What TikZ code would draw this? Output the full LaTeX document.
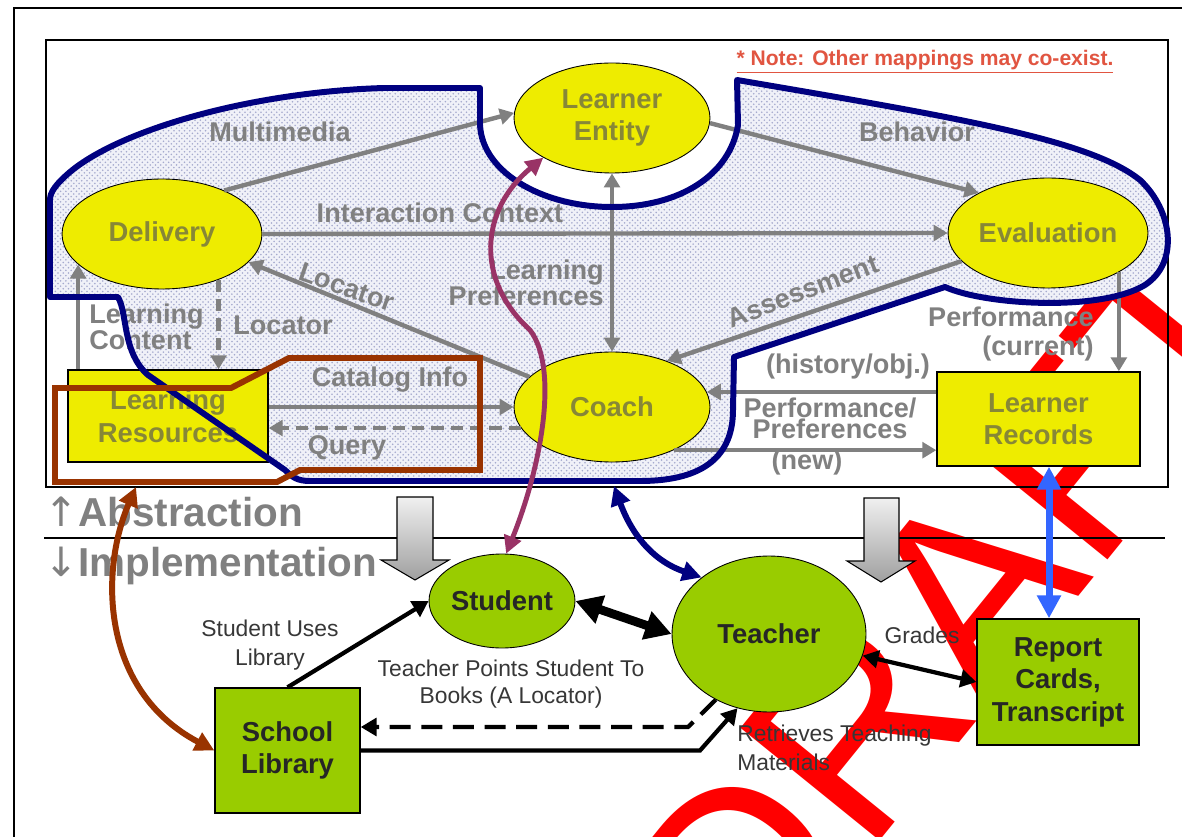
\documentclass[tikz,border=0pt]{standalone}
\usepackage{fontspec}
\setmainfont{Liberation Sans}
\newfontfamily\arrowfont{DejaVu Sans}
\usetikzlibrary{shapes.geometric,arrows.meta,patterns}

\definecolor{ylw}{RGB}{238,236,0}
\definecolor{grn}{RGB}{153,204,0}
\definecolor{navyline}{RGB}{0,0,128}
\definecolor{brn}{RGB}{153,51,0}
\definecolor{plum}{RGB}{153,51,102}
\definecolor{lblue}{RGB}{51,102,255}
\definecolor{lgray}{RGB}{128,128,128}
\definecolor{dgray}{RGB}{55,55,55}
\definecolor{nodetxt}{RGB}{135,135,55}
\definecolor{notered}{RGB}{225,85,65}
\definecolor{wmred}{RGB}{255,0,0}
\definecolor{dotbase}{RGB}{240,241,248}
\definecolor{dotcol}{RGB}{165,170,205}

\newcommand\nodefont{\fontsize{15.6}{18.5}\selectfont\bfseries}
\newcommand\labfont{\fontsize{15.4}{15}\selectfont\bfseries}
\newcommand\lowfont{\fontsize{13}{16.5}\selectfont}

\tikzset{
  yell/.style={ellipse, draw=black, line width=0.5pt, fill=ylw, text=nodetxt,
    font=\nodefont, inner sep=0pt, align=center},
  yrect/.style={rectangle, draw=black, line width=0.8pt, fill=ylw, text=nodetxt,
    font=\nodefont, inner sep=0pt, align=center},
  gell/.style={ellipse, draw=black, line width=0.5pt, fill=grn, text=black!85,
    font=\nodefont, inner sep=0pt, align=center},
  grect/.style={rectangle, draw=black, line width=0.8pt, fill=grn, text=black!85,
    font=\nodefont, inner sep=0pt, align=center},
  glab/.style={text=lgray, font=\labfont, inner sep=0pt, align=center},
  blab/.style={text=dgray, font=\lowfont, inner sep=0pt, align=center},
  garr/.style={draw=lgray, line width=2.5pt, -{Triangle[length=8pt,width=9pt]}},
  gboth/.style={draw=lgray, line width=2.5pt,
    {Triangle[length=8pt,width=9pt]}-{Triangle[length=8pt,width=9pt]}},
  gdash/.style={dash pattern=on 7pt off 4pt},
  barr/.style={draw=black, line width=2.4pt, -{Triangle[length=9pt,width=10pt]}},
  bboth/.style={draw=black, line width=2.4pt,
    {Triangle[length=9pt,width=10pt]}-{Triangle[length=9pt,width=10pt]}},
  blockarrow/.style={draw=black, line width=0.6pt, top color=gray!12, bottom color=gray!75},
}

\begin{document}
\begin{tikzpicture}[x=0.02cm, y=-0.02cm]
\useasboundingbox (0,0) rectangle (1182,837);
\clip (0,0) rectangle (1182,837);
\fill[white] (0,0) rectangle (1182,837);

% watermark underneath everything
\node[rotate=51, text=wmred, font=\fontsize{148}{148}\selectfont, inner sep=0pt]
  (wm) at (952,610) {DRAFT};

% frames
\draw[line width=0.8pt] (14,8) rectangle (1220,880);
\draw[line width=0.8pt] (46,40) rectangle (1168,487);

% shaded region of the abstract model
\def\regionpath{(50,200) -- (50,297) -- (118,297)
  .. controls (128,315) and (122,352) .. (148,375)
  -- (285,470) .. controls (292,477) and (297,481) .. (310,481)
  -- (640,481) .. controls (705,481) and (733,455) .. (733,410)
  -- (734,357) -- (945,287)
  .. controls (985,305) and (1100,312) .. (1145,285)
  .. controls (1180,262) and (1172,210) .. (1140,180)
  .. controls (1090,140) and (960,118) .. (737,80)
  -- (738,125) .. controls (730,175) and (680,207) .. (612,207)
  .. controls (540,207) and (478,170) .. (480,120)
  -- (480,88) -- (384,88)
  .. controls (250,92) and (120,130) .. (70,172)
  .. controls (56,184) and (50,192) .. (50,200) -- cycle}
\fill[dotbase] \regionpath;
\fill[pattern=crosshatch dots, pattern color=dotcol] \regionpath;

% abstract nodes
\node[yell, minimum width=3.92cm, minimum height=2.2cm] (le) at (612,118) {Learner\\Entity};
\node[yell, minimum width=4.0cm, minimum height=2.2cm] (del) at (162,234) {Delivery};
\node[yell, minimum width=4.0cm, minimum height=2.2cm] (eva) at (1048,233) {Evaluation};
\node[yell, minimum width=3.92cm, minimum height=2.2cm] (coach) at (612,407) {Coach};
\node[yrect, minimum width=4.0cm, minimum height=1.84cm] (lres) at (168,416) {Learning\\Resources};
\node[yrect, minimum width=4.06cm, minimum height=1.88cm] (lrec) at (1038.5,419) {Learner\\Records};

% abstract connectors
\draw[garr] (del.35) -- (le.177);
\draw[garr] (le.-3) -- (eva.150);
\draw[garr] (del.east) -- (eva.west);
\draw[gboth] (le.south) -- (coach.north);
\draw[garr] (coach.160) -- (del.-18);
\draw[garr] (eva.198) -- (coach.40);
\draw[garr] (del.200 |- lres.north) -- (del.200);
\draw[garr, gdash] (del.-39) -- (del.-39 |- lres.north);
\draw[garr] (lres.east |- coach.west) -- (coach.west);
\draw[garr, gdash] (coach.193) -- (coach.193 -| lres.east);
\draw[garr] (eva.-29) -- (eva.-29 |- lrec.north);
\draw[garr] (coach.9 -| lrec.west) -- (coach.9);
\draw[garr] (coach.-35) -- (coach.-35 -| lrec.west);

% connector labels
\node[glab] (tMul) at (280,132) {Multimedia};
\node[glab] (tBeh) at (917,132) {Behavior};
\node[glab] (tInt) at (440,213) {Interaction Context};
\node[glab, align=right, anchor=east] (tLP) at (604,283) {Learning\\Preferences};
\node[glab, rotate=-19] (tLoc1) at (347,287) {Locator};
\node[glab, rotate=21] (tAss) at (803,291) {Assessment};
\node[glab, align=left, anchor=west] (tLC) at (89,327) {Learning\\Content};
\node[glab] (tLoc2) at (283,325) {Locator};
\node[glab] (tCat) at (390,380) {Catalog Info};
\node[glab] (tQry) at (347,448) {Query};
\node[glab, align=right, anchor=east, font=\fontsize{15.4}{16}\selectfont\bfseries] (tPc) at (1094,334) {Performance\\(current)};
\node[glab] (tHist) at (848,367) {(history/obj.)};
\node[glab, font=\fontsize{15.4}{12}\selectfont\bfseries] (tPP) at (830,418) {Performance/\\Preferences};
\node[glab] (tNew) at (807,463) {(new)};

% boundary of the learner-centred part
\draw[navyline, line width=3.4pt, line join=round] \regionpath;

% catalogue boundary
\draw[brn, line width=3.4pt, line join=miter]
  (55,388) -- (231,388) -- (289,358) -- (480,358) -- (480,470)
  -- (300,470) -- (277,482) -- (55,482) -- cycle;

% note
\node[text=notered, font=\fontsize{12}{14}\selectfont\bfseries, inner sep=0pt]
  (note) at (925,62) {\underline{* Note: Other mappings may co-exist.}};

% abstraction / implementation divide
\draw[line width=1.7pt] (44,538) -- (1165,538);
\node[text=lgray, font=\fontsize{23}{25}\selectfont\bfseries, anchor=west, inner sep=0pt]
  (tAbs) at (44,512) {{\arrowfont\mdseries ↑}Abstraction};
\node[text=lgray, font=\fontsize{23}{25}\selectfont\bfseries, anchor=west, inner sep=0pt]
  (tImp) at (44,566) {{\arrowfont\mdseries ↓}Implementation};

% mapping arrows
\shade[blockarrow] (397,497) -- (433,497) -- (433,560) -- (449,560) -- (415,580)
  -- (381,560) -- (397,560) -- cycle;
\shade[blockarrow] (864,498) -- (899,498) -- (899,561) -- (915,561) -- (881,582)
  -- (847,561) -- (864,561) -- cycle;

% implementation nodes
\node[gell, minimum width=2.92cm, minimum height=1.88cm] (stu) at (502,601) {Student};
\node[gell, minimum width=3.88cm, minimum height=3.12cm] (tea) at (769,634) {Teacher};
\node[grect, minimum width=2.9cm, minimum height=2.5cm] (lib) at (287.5,750.5) {School\\Library};
\node[grect, minimum width=3.24cm, minimum height=2.52cm] (rep) at (1058,682) {Report\\Cards,\\Transcript};

% implementation connectors
\draw[barr] (lib.north) -- (stu.west);
\draw[draw=black, line width=5pt,
  {Triangle[length=15pt,width=16pt]}-{Triangle[length=15pt,width=16pt]}]
  (stu.east) -- (tea.west);
\coordinate (dk) at (688,727);
\draw[barr, dash pattern=on 12pt off 6pt] (tea.231) -- (dk) -- (dk -| lib.east);
\coordinate (sk) at (700,750);
\draw[barr] (lib.east) -- (sk |- lib.east) -- (tea.247);
\draw[bboth] (tea.-13) -- (rep.west);

\node[blab] (tSUL) at (270,645) {Student Uses\\Library};
\node[blab, font=\fontsize{13}{15.5}\selectfont] (tTP) at (511,684) {Teacher Points Student To\\Books (A Locator)};
\node[blab] (tGr) at (922,635) {Grades};
\node[blab, align=left, anchor=west] (tRT) at (737,748) {Retrieves Teaching\\Materials};

% mappings between the two levels
\coordinate (brtop) at (136,487);
\draw[brn, line width=3.4pt, {Triangle[length=11pt,width=11pt]}-{Triangle[length=11pt,width=11pt]}]
  (brtop) .. controls (100,570) and (100,690) .. (lib.west);
\draw[plum, line width=2.8pt, {Triangle[length=10pt,width=10pt]}-{Triangle[length=10pt,width=10pt]}]
  (le.210) .. controls (480,210) and (475,280) .. (530,330)
  .. controls (560,370) and (540,470) .. (stu.85);
\coordinate (nvtop) at (614,486);
\draw[navyline, line width=3.4pt, {Triangle[length=11pt,width=11pt]}-{Triangle[length=11pt,width=11pt]}]
  (nvtop) .. controls (630,530) and (650,560) .. (tea.140);
\coordinate (bx) at (1049,0);
\draw[lblue, line width=4pt, {Triangle[length=13pt,width=13pt]}-{Triangle[length=13pt,width=13pt]}]
  (lrec.south -| bx) -- (rep.north -| bx);
\end{tikzpicture}
\end{document}
